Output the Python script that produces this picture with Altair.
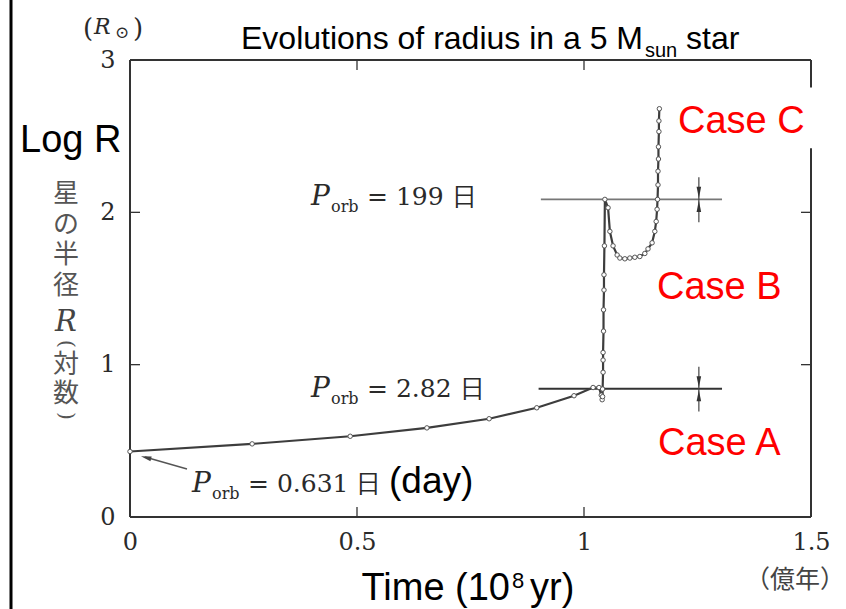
import altair as alt
import pandas as pd

# ---------------- data ----------------
time_1e8yr = [0.000, 0.269, 0.485, 0.654, 0.791, 0.896, 0.978, 1.020, 1.033, 1.038,
              1.040, 1.041, 1.041, 1.042, 1.042, 1.042, 1.043, 1.043, 1.044, 1.044,
              1.045, 1.046, 1.053, 1.057, 1.064, 1.073, 1.079, 1.090, 1.101, 1.112,
              1.123, 1.134, 1.141, 1.150, 1.156, 1.159, 1.161, 1.162, 1.163, 1.163,
              1.164, 1.164, 1.165, 1.165, 1.166]
log_radius = [0.43, 0.48, 0.53, 0.585, 0.645, 0.717, 0.796, 0.85, 0.85, 0.80,
              0.77, 0.79, 0.84, 0.95, 1.03, 1.08, 1.22, 1.36, 1.49, 1.59,
              1.78, 2.085, 2.03, 1.875, 1.78, 1.72, 1.70, 1.695, 1.70, 1.705,
              1.71, 1.73, 1.76, 1.80, 1.875, 1.94, 2.02, 2.085, 2.18, 2.27,
              2.35, 2.43, 2.53, 2.60, 2.68]

x_tick_labels = [0, 0.5, 1, 1.5]
y_tick_labels = [0, 1, 2, 3]
inner_x_ticks = [0.5, 1.0]
inner_y_ticks = [1, 2]

roche_level = [2.085, 0.842]        # log R at which Roche lobe is filled
roche_start = [0.905, 0.900]
roche_end = [1.304, 1.304]
roche_color = ["#777777", "#333333"]
arrow_time = 1.253

# ---------------- layout ----------------
X0, Y0 = 130, 60
W, H = 681, 457
XMAX, YMAX = 1.5, 3.0
dx_tick = 10 / W * XMAX
dy_tick = 10 / H * YMAX

XS = alt.Scale(domain=[0, XMAX], nice=False, zero=False)
YS = alt.Scale(domain=[0, YMAX], nice=False, zero=False)
AXX = alt.Axis(values=x_tick_labels, format="~g", ticks=False, domain=False, grid=False,
               labelFont="DejaVu Serif", labelFontSize=24, labelColor="#2a2a2a",
               labelPadding=13, labelFlush=False, labelBound=False, labelOverlap=False,
               title=None)
AXY = alt.Axis(values=y_tick_labels, format="d", ticks=False, domain=False, grid=False,
               labelFont="DejaVu Serif", labelFontSize=24, labelColor="#2a2a2a",
               labelPadding=15, labelFlush=False, labelBound=False, labelOverlap=False,
               title=None)


def X(f):
    return alt.X(f, type="quantitative", scale=XS, axis=AXX, title=None)


def Y(f):
    return alt.Y(f, type="quantitative", scale=YS, axis=AXY, title=None)


one = pd.DataFrame({"a": [0]})


def txt(s, px, py, size, font="DejaVu Serif", color="#2a2a2a", align="left",
        baseline="alphabetic", style="normal", angle=0, line_height=None):
    kw = dict(text=s, font=font, fontSize=size, color=color, align=align,
              baseline=baseline, fontStyle=style, angle=angle)
    if line_height is not None:
        kw["lineHeight"] = line_height
    return alt.Chart(one).mark_text(**kw).encode(
        x=alt.value(px - X0), y=alt.value(py - Y0))


def prule(x1, y1, x2, y2, color="#444444", width=1.5):
    return alt.Chart(one).mark_rule(color=color, strokeWidth=width).encode(
        x=alt.value(x1 - X0), y=alt.value(y1 - Y0),
        x2=alt.value(x2 - X0), y2=alt.value(y2 - Y0))


# ---------------- curve ----------------
curve = pd.DataFrame({"t": time_1e8yr, "r": log_radius,
                      "i": list(range(len(time_1e8yr)))})
line = alt.Chart(curve).mark_line(color="#3d3d3d", strokeWidth=2.2).encode(
    x=X("t"), y=Y("r"), order="i:Q")
pts = alt.Chart(curve).mark_point(shape="circle", filled=True, fill="white",
                                  stroke="#555555", strokeWidth=1, size=20,
                                  opacity=1).encode(x=X("t"), y=Y("r"))

# ---------------- frame and inner ticks ----------------
frame = pd.DataFrame({
    "x": [0, 0, 0, XMAX, XMAX],
    "x2": [XMAX, XMAX, 0, XMAX, XMAX],
    "y": [0, YMAX, 0, 0, 2.82],
    "y2": [0, YMAX, YMAX, 2.42, YMAX],
})
frame_l = alt.Chart(frame).mark_rule(color="#333333", strokeWidth=2).encode(
    x=X("x"), x2="x2", y=Y("y"), y2="y2")

ticks = pd.DataFrame({
    "x": inner_x_ticks + inner_x_ticks + [0] * len(inner_y_ticks) + [XMAX] * len(inner_y_ticks),
    "x2": inner_x_ticks + inner_x_ticks + [dx_tick] * len(inner_y_ticks)
          + [XMAX - dx_tick] * len(inner_y_ticks),
    "y": [0] * len(inner_x_ticks) + [YMAX] * len(inner_x_ticks) + inner_y_ticks + inner_y_ticks,
    "y2": [dy_tick] * len(inner_x_ticks) + [YMAX - dy_tick] * len(inner_x_ticks)
          + inner_y_ticks + inner_y_ticks,
})
ticks_l = alt.Chart(ticks).mark_rule(color="#333333", strokeWidth=1.3).encode(
    x=X("x"), x2="x2", y=Y("y"), y2="y2")

# ---------------- Roche-lobe levels with double arrows ----------------
roche = pd.DataFrame({"y": roche_level, "x": roche_start, "x2": roche_end, "c": roche_color})
roche_l = alt.Chart(roche).mark_rule(strokeWidth=1.8).encode(
    x=X("x"), x2="x2", y=Y("y"), color=alt.Color("c:N", scale=None))

arr = pd.DataFrame({"x": [arrow_time] * 2,
                    "y": [lv + 0.145 for lv in roche_level],
                    "y2": [lv - 0.15 for lv in roche_level]})
arr_l = alt.Chart(arr).mark_rule(color="#444444", strokeWidth=1.2).encode(
    x=X("x"), y=Y("y"), y2="y2")
heads_down = pd.DataFrame({"x": [arrow_time] * 2, "y": [lv + 0.045 for lv in roche_level]})
heads_up = pd.DataFrame({"x": [arrow_time] * 2, "y": [lv - 0.045 for lv in roche_level]})
hd = alt.Chart(heads_down).mark_point(shape="M-0.4,-1L0.4,-1L0,1Z", filled=True,
                                      color="#333333", size=130, opacity=1).encode(
    x=X("x"), y=Y("y"))
hu = alt.Chart(heads_up).mark_point(shape="M-0.4,1L0.4,1L0,-1Z", filled=True,
                                    color="#333333", size=130, opacity=1).encode(
    x=X("x"), y=Y("y"))

# ---------------- pointer arrow to the ZAMS point ----------------
ptr = prule(187, 469, 145, 457, color="#555555", width=1.4)
ptr_head = alt.Chart(one).mark_point(shape="M1,-0.45L1,0.45L-1,0Z", filled=True,
                                     color="#444444", size=110, angle=15,
                                     opacity=1).encode(
    x=alt.value(146 - X0), y=alt.value(457.5 - Y0))

# ---------------- texts ----------------
texts = [
    # title
    txt("Evolutions of radius in a 5 M", 643, 49, 32, font="Liberation Sans",
        color="#000000", align="right"),
    txt("sun", 645, 57, 20, font="Liberation Sans", color="#000000"),
    txt("star", 686, 49, 32, font="Liberation Sans", color="#000000"),
    # unit on top of y axis
    txt("(", 83, 37, 26),
    txt("R", 94, 34, 22, style="italic"),
    txt("⊙", 115, 38, 17),
    txt(")", 133, 37, 26),
    # Log R
    txt("Log R", 20, 152, 38, font="Liberation Sans", color="#000000"),
    # x unit
    txt("（億年）", 795, 580, 25, font="Noto Sans CJK JP", color="#444444",
        align="center", baseline="middle"),
    # x title
    txt("Time (10", 510, 600, 38, font="Liberation Sans", color="#000000", align="right"),
    txt("8", 512, 588, 22, font="Liberation Sans", color="#000000"),
    txt("yr)", 530, 600, 38, font="Liberation Sans", color="#000000"),
    # Porb labels
    txt("P", 311, 205, 28, style="italic"),
    txt("orb", 331, 212, 16),
    txt("= 199 日", 367, 205, 25),
    txt("P", 311, 397, 28, style="italic"),
    txt("orb", 331, 404, 16),
    txt("= 2.82 日", 367, 397, 25),
    txt("P", 192, 492, 28, style="italic"),
    txt("orb", 212, 499, 16),
    txt("= 0.631 日", 248, 492, 25),
    txt("(day)", 389, 493, 37, font="Liberation Sans", color="#000000"),
    # cases
    txt("Case C", 678, 133, 38, font="Liberation Sans", color="#ff0000"),
    txt("Case B", 657, 299, 38, font="Liberation Sans", color="#ff0000"),
    txt("Case A", 658, 455, 38, font="Liberation Sans", color="#ff0000"),
]

# vertical Japanese y-axis title (stacked lines; first line sits at the given y)
texts.append(txt(["星", "の", "半", "径"], 66, 194, 26, font="Noto Sans CJK JP",
                 color="#555555", align="center", baseline="middle", line_height=30.7))
texts.append(txt("R", 66, 322, 29, color="#444444", style="italic",
                 align="center", baseline="middle"))
texts.append(txt("(", 66, 344, 20, color="#555555", align="center",
                 baseline="middle", angle=90))
texts.append(txt(["対", "数"], 66, 365, 26, font="Noto Sans CJK JP",
                 color="#555555", align="center", baseline="middle", line_height=29))
texts.append(txt(")", 66, 416, 20, color="#555555", align="center",
                 baseline="middle", angle=90))

# left edge border of the picture
edge = prule(11, 0, 11, 609, color="#000000", width=3)

chart = alt.layer(
    frame_l, ticks_l, roche_l, arr_l, hd, hu, line, pts, ptr, ptr_head, edge, *texts
).properties(
    width=W, height=H,
    padding={"left": X0, "top": Y0, "right": 846 - X0 - W, "bottom": 609 - Y0 - H},
    autosize=alt.AutoSizeParams(type="none"),
    background="white",
).configure_view(strokeWidth=0)

chart.save("out.html", embed_options={"renderer": "svg", "actions": False})
